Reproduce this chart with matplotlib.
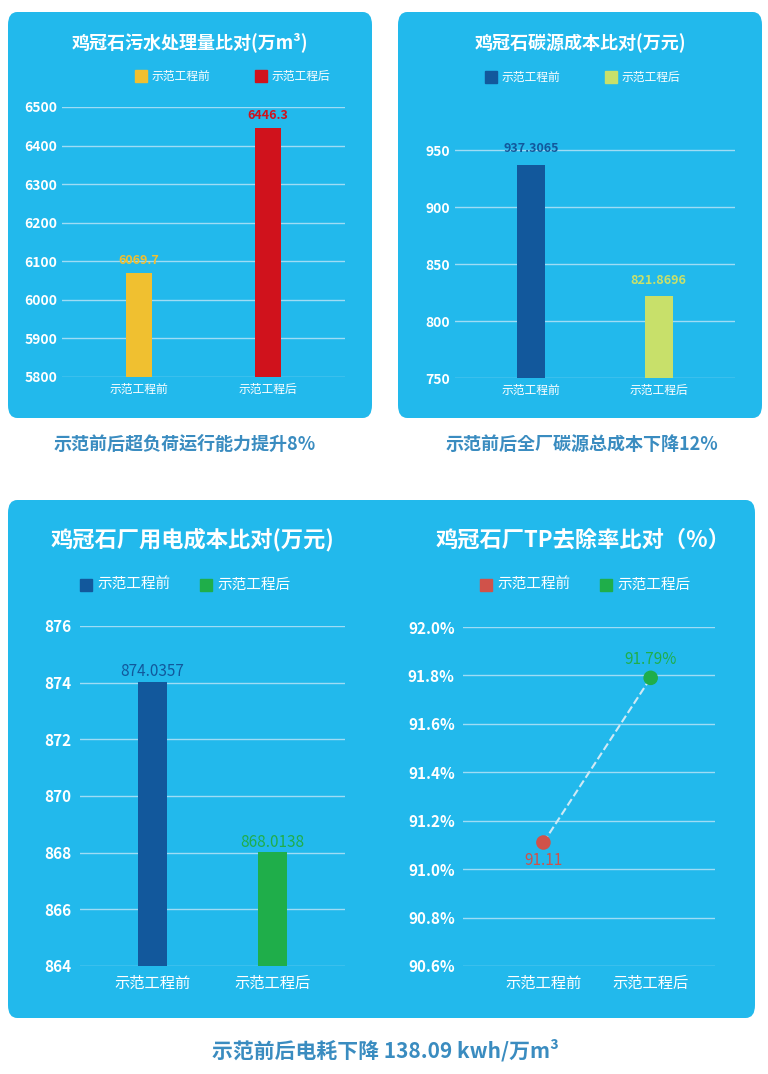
import matplotlib.pyplot as plt
from matplotlib.patches import FancyBboxPatch, Rectangle
from matplotlib.ticker import FuncFormatter

plt.rcParams['font.family'] = ['Noto Sans CJK JP', 'Noto Sans CJK SC', 'DejaVu Sans']
plt.rcParams['font.weight'] = 'bold'

W, H = 768, 1074
cats = ['示范工程前', '示范工程后']
sewage = [6069.7, 6446.3]
carbon = [937.3065, 821.8696]
power = [874.0357, 868.0138]
tp_rate = [91.11, 91.79]

BG = '#22b9ec'
GRID = '#9fdcf5'
CAP = '#3a8cc0'

fig = plt.figure(figsize=(W / 100, H / 100), dpi=100)
fig.patch.set_facecolor('white')


def px_axes(x0, y0, x1, y1):
    ax = fig.add_axes([x0 / W, 1 - y1 / H, (x1 - x0) / W, (y1 - y0) / H])
    ax.set_zorder(2)
    return ax


def panel(x0, y0, x1, y1):
    fig.patches.append(FancyBboxPatch((x0 / W, 1 - y1 / H), (x1 - x0) / W, (y1 - y0) / H,
                                      boxstyle='round,pad=0,rounding_size=0.012',
                                      transform=fig.transFigure, facecolor=BG,
                                      edgecolor='none', zorder=-5))


def legend(xc, y, colors, fs):
    for dx, c, t in zip([-60, 60], colors, cats):
        xx = xc + dx - 45
        fig.patches.append(Rectangle((xx / W, 1 - (y + 6) / H), 12 / W, 12 / H,
                                     transform=fig.transFigure, color=c, zorder=2))
        fig.text((xx + 17) / W, 1 - y / H, t, color='white', fontsize=fs,
                 va='center', ha='left', fontweight='normal')


def style(ax, ylim, ticks, fmt=None):
    ax.set_facecolor('none')
    ax.patch.set_alpha(0)
    ax.set_ylim(*ylim)
    ax.set_yticks(ticks)
    if fmt:
        ax.yaxis.set_major_formatter(fmt)
    ax.grid(axis='y', color=GRID, linewidth=1)
    ax.set_axisbelow(True)
    for s in ax.spines.values():
        s.set_visible(False)
    ax.tick_params(length=0, colors='white', labelsize=10)
    ax.set_xlim(-0.6, 1.6)
    ax.set_xticks([0, 1])
    ax.set_xticklabels(cats, fontweight='normal')


panel(8, 12, 372, 418)
panel(398, 12, 762, 418)
panel(8, 500, 755, 1018)

# panel 1
fig.text(190 / W, 1 - 42 / H, '鸡冠石污水处理量比对(万m³)', color='white', fontsize=13,
         ha='center', va='center')
legend(240, 76, ['#f0c030', '#d0121c'], 8.5)
ax1 = px_axes(62, 107, 345, 377)
style(ax1, (5800, 6500), range(5800, 6501, 100))
ax1.bar([0, 1], sewage, width=0.2, color=['#f0c030', '#d0121c'])
for i, v, c in zip([0, 1], sewage, ['#f0c030', '#d0121c']):
    ax1.text(i, v + 15, f'{v}', color=c, ha='center', va='bottom', fontsize=9)
ax1.tick_params(axis='x', labelsize=8.5, pad=4)

# panel 2
fig.text(580 / W, 1 - 43 / H, '鸡冠石碳源成本比对(万元)', color='white', fontsize=13,
         ha='center', va='center')
legend(590, 77, ['#12589c', '#c8e06a'], 8.5)
ax2 = px_axes(455, 125, 735, 378)
style(ax2, (750, 972), range(750, 951, 50))
ax2.bar([0, 1], carbon, width=0.22, color=['#12589c', '#c8e06a'])
for i, v, c in zip([0, 1], carbon, ['#12589c', '#c8e06a']):
    ax2.text(i, v + 8, f'{v}', color=c, ha='center', va='bottom', fontsize=9)
ax2.tick_params(axis='x', labelsize=8.5, pad=4)

# panel 3
fig.text(192 / W, 1 - 540 / H, '鸡冠石厂用电成本比对(万元)', color='white', fontsize=16,
         ha='center', va='center')
legend(185, 585, ['#12589c', '#1fae4a'], 10.5)
ax3 = px_axes(80, 626, 345, 966)
style(ax3, (864, 876), range(864, 877, 2))
ax3.bar([0, 1], power, width=0.24, color=['#12589c', '#1fae4a'])
for i, v, c in zip([0, 1], power, ['#12589c', '#1fae4a']):
    ax3.text(i, v + 0.05, f'{v:.4f}', color=c, ha='center', va='bottom', fontsize=11,
             fontweight='normal')
ax3.tick_params(axis='both', labelsize=11, pad=6)

# panel 4
fig.text(583 / W, 1 - 540 / H, '鸡冠石厂TP去除率比对（%）', color='white', fontsize=16,
         ha='center', va='center')
legend(585, 585, ['#d0524a', '#1fae4a'], 10.5)
ax4 = px_axes(463, 627, 715, 966)
style(ax4, (90.6, 92.0), [90.6, 90.8, 91.0, 91.2, 91.4, 91.6, 91.8, 92.0],
      FuncFormatter(lambda v, p: f'{v:.1f}%'))
ax4.set_xlim(-0.75, 1.6)
ax4.plot([0, 1], tp_rate, '--', color='#cfe9f5', linewidth=1.5, zorder=2)
ax4.scatter([0, 1], tp_rate, color=['#d0524a', '#1fae4a'], s=90, zorder=3)
ax4.text(0, tp_rate[0] - 0.04, f'{tp_rate[0]}', color='#d0524a', ha='center', va='top',
         fontsize=11, fontweight='normal')
ax4.text(1, tp_rate[1] + 0.04, f'{tp_rate[1]}%', color='#1fae4a', ha='center', va='bottom',
         fontsize=11, fontweight='normal')
ax4.tick_params(axis='both', labelsize=11, pad=6)

# captions
fig.text(185 / W, 1 - 444 / H, '示范前后超负荷运行能力提升8%', color=CAP, fontsize=13,
         ha='center', va='center')
fig.text(582 / W, 1 - 444 / H, '示范前后全厂碳源总成本下降12%', color=CAP, fontsize=13,
         ha='center', va='center')
fig.text(385 / W, 1 - 1050 / H, '示范前后电耗下降 138.09 kwh/万m³', color=CAP, fontsize=15,
         ha='center', va='center')

fig.savefig('out.png', dpi=100, facecolor='white')
